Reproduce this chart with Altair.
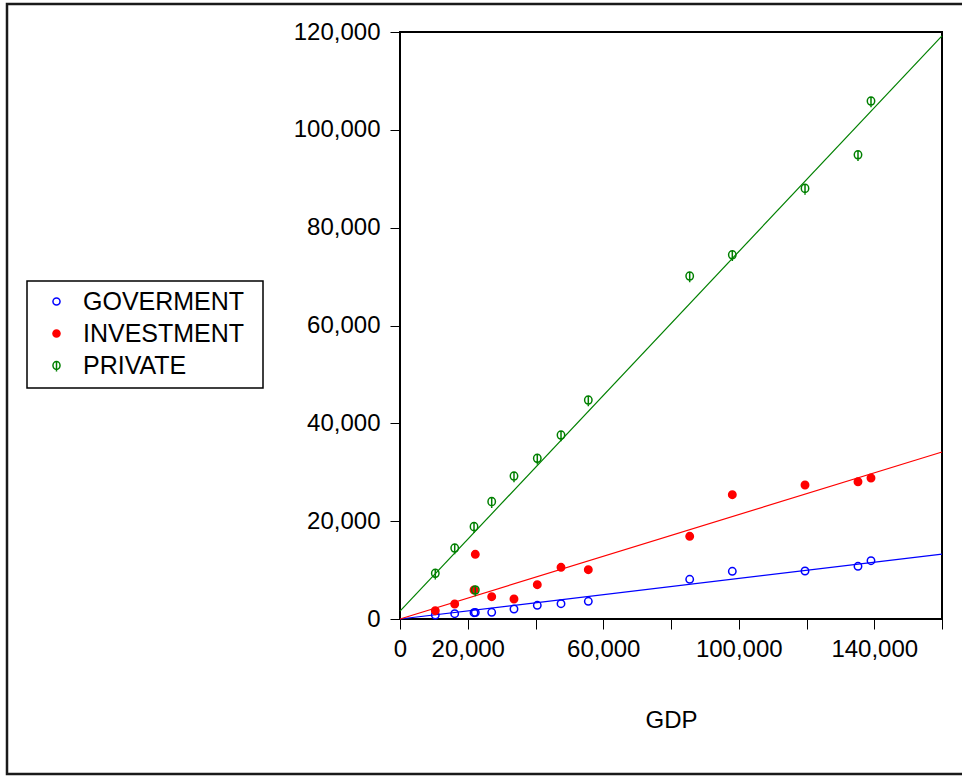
import altair as alt
import pandas as pd

# Observations: GDP and its three components
gdp = [10420, 16150, 21850, 22230, 27070, 33650, 40530, 47530, 55590,
       85520, 98100, 119560, 135200, 139040]
goverment = [820, 1080, 1290, 1330, 1370, 2040, 2800, 3130, 3620,
             8110, 9750, 9810, 10770, 11920]
investment = [1700, 3070, 5930, 13220, 4560, 4090, 7010, 10570, 10080,
              16900, 25410, 27390, 28060, 28820]
private = [9340, 14510, 18870, 5930, 23980, 29230, 32850, 37610, 44760,
           70110, 74460, 88030, 94900, 105880]

# Fitted lines, given by their values at both ends of the GDP range
fit_gdp = [0, 160000]
fit_goverment = [0, 13250]
fit_investment = [0, 34150]
fit_private = [1600, 119200]

series_names = ["GOVERMENT", "INVESTMENT", "PRIVATE"]
series_colors = ["#0000FF", "#FF0000", "#008000"]
series_fills = ["transparent", "#FF0000", "transparent"]
# open circle, filled circle, circle crossed by a vertical stroke
series_shapes = ["circle", "circle",
                 "M0,-1.3L0,1.7M-1,0A1,1.1 0 1 0 1,0A1,1.1 0 1 0 -1,0"]

x_ticks = [0, 20000, 40000, 60000, 80000, 100000, 120000, 140000, 160000]
x_labelled = [0, 20000, 60000, 100000, 140000]
y_ticks = [0, 20000, 40000, 60000, 80000, 100000, 120000]

FONT = "Liberation Sans"

points_df = pd.concat([
    pd.DataFrame({"gdp": gdp, "value": vals, "series": name})
    for name, vals in zip(series_names, [goverment, investment, private])
])
fit_df = pd.concat([
    pd.DataFrame({"gdp": fit_gdp, "value": vals, "series": name})
    for name, vals in zip(series_names, [fit_goverment, fit_investment, fit_private])
])

label_list = ",".join(str(v) for v in x_labelled)
x_enc = alt.X(
    "gdp:Q",
    scale=alt.Scale(domain=[0, 160000], nice=False),
    axis=alt.Axis(
        title="GDP", values=x_ticks, format=",d", grid=False, domain=False,
        tickSize=10, tickColor="black", labelPadding=8, labelOverlap=False,
        labelFlush=False,
        labelExpr=f"indexof([{label_list}], datum.value) >= 0 ? datum.label : ''",
        titlePadding=47, titleFontWeight="normal",
    ),
)
y_enc = alt.Y(
    "value:Q",
    scale=alt.Scale(domain=[0, 120000], nice=False),
    axis=alt.Axis(
        title=None, values=y_ticks, format=",d", grid=False, domain=False,
        tickSize=10, tickColor="black", labelPadding=10, labelFlush=False,
    ),
)

legend = alt.Legend(
    title=None, orient="none", legendX=-373, legendY=247, padding=10,
    labelFont=FONT, labelFontSize=25, labelColor="black", labelLimit=400,
    symbolSize=50, symbolStrokeWidth=1.5, symbolOffset=7,
    labelOffset=14, rowPadding=6,
)

# outer border of the figure and the box around the legend
frame = alt.Chart(pd.DataFrame({"k": [0]})).mark_rect(
    fill="transparent", stroke="#1a1a1a", strokeWidth=2.5
).encode(
    x=alt.value(-393), x2=alt.value(575), y=alt.value(-28), y2=alt.value(742)
)
legend_box = alt.Chart(pd.DataFrame({"k": [0]})).mark_rect(
    fill="white", stroke="black", strokeWidth=1.5
).encode(
    x=alt.value(-373), x2=alt.value(-137), y=alt.value(249), y2=alt.value(356)
)

# one fitted line per series, each in its series colour
line_layers = [
    alt.Chart(fit_df).transform_filter(alt.datum.series == name)
    .mark_line(strokeWidth=1.2, color=col)
    .encode(x=x_enc, y=y_enc)
    for name, col in zip(series_names, series_colors)
]

points = alt.Chart(points_df).mark_point(
    size=55, strokeWidth=1.5, opacity=1, filled=False
).encode(
    x=x_enc, y=y_enc,
    color=alt.Color("series:N",
                    scale=alt.Scale(domain=series_names, range=series_colors),
                    legend=legend),
    fill=alt.Fill("series:N",
                  scale=alt.Scale(domain=series_names, range=series_fills),
                  legend=legend),
    shape=alt.Shape("series:N",
                    scale=alt.Scale(domain=series_names, range=series_shapes),
                    legend=legend),
)

chart = alt.layer(frame, legend_box, *line_layers, points).properties(
    width=542, height=587,
    padding={"left": 400, "top": 32, "right": 20, "bottom": 157},
    autosize=alt.AutoSizeParams(type="none"),
    background="white",
).configure_view(
    stroke="black", strokeWidth=2
).configure_axis(
    labelFont=FONT, labelFontSize=24, labelColor="black",
    titleFont=FONT, titleFontSize=24, titleColor="black",
)

chart.save("out.html", embed_options={"renderer": "svg", "actions": False})
